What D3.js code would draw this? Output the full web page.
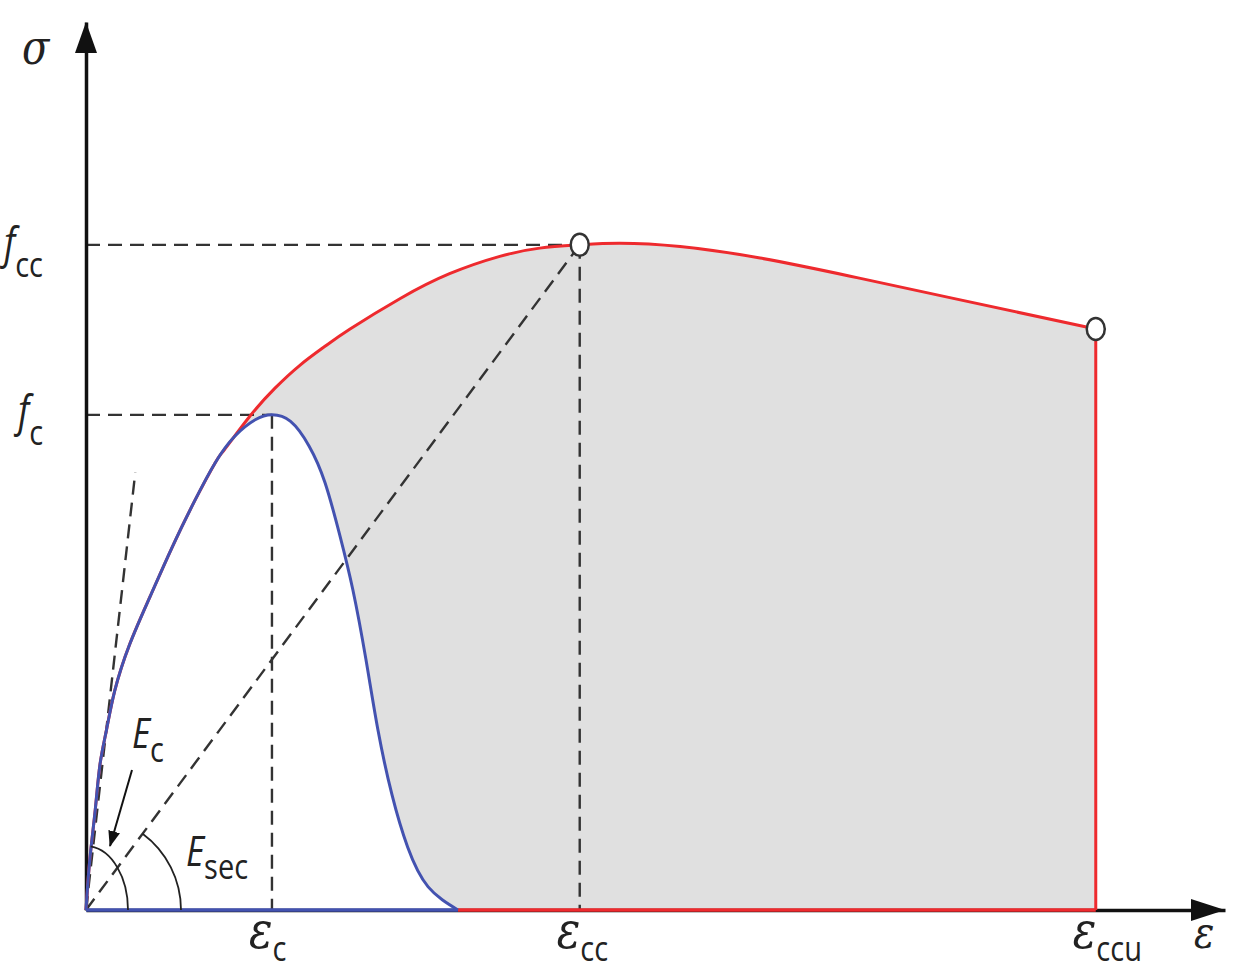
<!DOCTYPE html>
<html>
<head>
<meta charset="utf-8">
<script src="https://cdn.jsdelivr.net/npm/d3@7"></script>
<style>
  body { margin: 0; background: #fff; }
  .sans { font-family: "Open Sans", sans-serif; fill: #222; }
  .greek { font-family: "DejaVu Serif", serif; font-style: italic; fill: #222; }
</style>
</head>
<body>
<div id="chart"></div>
<script>
var width = 1239;
var height = 973;

/* confined curve (red) : strain in permil, stress in MPa */
var confinedStrain = [0, 0.04, 0.10, 0.15, 0.22, 0.31, 0.47, 0.69, 0.92, 1.17, 1.39, 1.49, 1.76, 2.03, 2.30, 2.57, 2.84, 3.38, 3.91, 4.45, 4.88, 5.31, 5.74, 6.39, 7.25, 8.22, 9.29, 10.86];
var confinedStress = [0, 3.0, 6.1, 8.8, 10.9, 13.3, 16.1, 19.0, 21.9, 24.8, 27.1, 27.9, 29.9, 31.6, 33.0, 34.15, 35.2, 37.05, 38.55, 39.6, 40.1, 40.3, 40.4, 40.2, 39.5, 38.4, 37.1, 35.2];

/* unconfined curve (blue) */
var plainStrain = [0, 0.04, 0.10, 0.15, 0.22, 0.31, 0.47, 0.69, 0.92, 1.17, 1.39, 1.60, 1.82, 2.00, 2.20, 2.40, 2.57, 2.73, 2.87, 3.01, 3.14, 3.29, 3.46, 3.68, 4.00];
var plainStress = [0, 3.0, 6.1, 8.8, 10.9, 13.3, 16.1, 19.0, 21.9, 24.8, 27.1, 28.7, 29.7, 30.0, 29.6, 28.1, 25.9, 22.7, 19.4, 15.2, 10.9, 7.0, 3.8, 1.4, 0];

/* key points: eps_c / f_c, eps_cc / f_cc, eps_ccu / f_ccu */
var keyStrain = [2.0, 5.31, 10.86];
var keyStress = [30.0, 40.3, 35.2];
var keySubs = ["c", "cc", "ccu"];

/* initial tangent (E_c) end point */
var tangentStrain = [0, 0.53];
var tangentStress = [0, 26.5];

var x = d3.scaleLinear().domain([0, 12.25]).range([86, 1225]);
var y = d3.scaleLinear().domain([0, 53.8]).range([910, 22]);

var red = "#ee2a2e";
var blue = "#4352b0";
var dash = "#333";

var confined = confinedStrain.map(function (d, i) { return {x: d, y: confinedStress[i]}; });
var plain = plainStrain.map(function (d, i) { return {x: d, y: plainStress[i]}; });

var svg = d3.select("#chart")
    .append("svg")
    .attr("width", width)
    .attr("height", height);

var line = d3.line()
    .x(function (d) { return x(d.x); })
    .y(function (d) { return y(d.y); })
    .curve(d3.curveNatural);

var area = d3.area()
    .x(function (d) { return x(d.x); })
    .y0(y(0))
    .y1(function (d) { return y(d.y); })
    .curve(d3.curveNatural);

// grey zone = under red minus under blue
svg.append("path").attr("d", area(confined)).attr("fill", "#e0e0e0");
svg.append("path").attr("d", area(plain)).attr("fill", "#fff");

// dashed guide lines
function dashed(x1, y1, x2, y2) {
    svg.append("line")
        .attr("x1", x(x1)).attr("y1", y(y1))
        .attr("x2", x(x2)).attr("y2", y(y2))
        .attr("stroke", dash)
        .attr("stroke-width", 2.4)
        .attr("stroke-dasharray", "14,8");
}
dashed(0, keyStress[1], keyStrain[1], keyStress[1]);
dashed(0, keyStress[0], keyStrain[0], keyStress[0]);
dashed(keyStrain[0], keyStress[0], keyStrain[0], 0);
dashed(keyStrain[1], keyStress[1], keyStrain[1], 0);
dashed(0, 0, keyStrain[1], keyStress[1]);
dashed(tangentStrain[0], tangentStress[0], tangentStrain[1], tangentStress[1]);

// axes (no ticks)
svg.append("g")
    .attr("transform", "translate(0," + y(0) + ")")
    .call(d3.axisBottom(x).tickValues([]).tickSizeOuter(0));
svg.append("g")
    .attr("transform", "translate(" + x(0) + ",0)")
    .call(d3.axisLeft(y).tickValues([]).tickSizeOuter(0));
svg.selectAll(".domain").attr("stroke", "#111").attr("stroke-width", 3.5);

var xEnd = x.range()[1], yEnd = y.range()[1];
svg.append("path")
    .attr("d", "M" + xEnd + "," + y(0) + "L" + (xEnd - 34) + "," + (y(0) - 11) + "L" + (xEnd - 34) + "," + (y(0) + 11) + "Z")
    .attr("fill", "#111");
svg.append("path")
    .attr("d", "M" + x(0) + "," + yEnd + "L" + (x(0) - 11) + "," + (yEnd + 31) + "L" + (x(0) + 11) + "," + (yEnd + 31) + "Z")
    .attr("fill", "#111");

// curves
svg.append("path").attr("d", line(confined))
    .attr("fill", "none").attr("stroke", red).attr("stroke-width", 3);
svg.append("line")
    .attr("x1", x(plainStrain[plainStrain.length - 1])).attr("y1", y(0))
    .attr("x2", x(keyStrain[2])).attr("y2", y(0))
    .attr("stroke", red).attr("stroke-width", 3.5);
svg.append("line")
    .attr("x1", x(keyStrain[2])).attr("y1", y(keyStress[2]))
    .attr("x2", x(keyStrain[2])).attr("y2", y(0))
    .attr("stroke", red).attr("stroke-width", 3);

svg.append("path").attr("d", line(plain))
    .attr("fill", "none").attr("stroke", blue).attr("stroke-width", 3);
svg.append("line")
    .attr("x1", x(0)).attr("y1", y(0))
    .attr("x2", x(plainStrain[plainStrain.length - 1])).attr("y2", y(0))
    .attr("stroke", blue).attr("stroke-width", 3.5);

// angle arcs
var ox = x(0), oy = y(0);
var tanAng = Math.atan2(oy - y(tangentStress[1]), x(tangentStrain[1]) - ox);
var secAng = Math.atan2(oy - y(keyStress[1]), x(keyStrain[1]) - ox);
svg.append("path")
    .attr("d", "M" + (ox + 42 * Math.cos(tanAng)) + "," + (oy - 64 * Math.sin(tanAng)) +
        "A42,64 0 0,1 " + (ox + 42) + "," + oy)
    .attr("fill", "none").attr("stroke", "#222").attr("stroke-width", 1.8);
svg.append("path")
    .attr("d", "M" + (ox + 95 * Math.cos(secAng)) + "," + (oy - 95 * Math.sin(secAng)) +
        "A95,95 0 0,1 " + (ox + 95) + "," + oy)
    .attr("fill", "none").attr("stroke", "#222").attr("stroke-width", 1.8);

// E_c pointer
svg.append("defs").append("marker")
    .attr("id", "head")
    .attr("viewBox", "0 0 16 12")
    .attr("refX", 15).attr("refY", 6)
    .attr("markerUnits", "userSpaceOnUse")
    .attr("markerWidth", 16).attr("markerHeight", 12)
    .attr("orient", "auto")
    .append("path").attr("d", "M0,0L16,6L0,12Z").attr("fill", "#111");
svg.append("line")
    .attr("x1", ox + 46).attr("y1", oy - 140)
    .attr("x2", ox + 24).attr("y2", oy - 64)
    .attr("stroke", "#111").attr("stroke-width", 2)
    .attr("marker-end", "url(#head)");

// key point circles
svg.selectAll(".pt")
    .data([1, 2])
    .enter()
    .append("ellipse")
    .attr("class", "pt")
    .attr("cx", function (d) { return x(keyStrain[d]); })
    .attr("cy", function (d) { return y(keyStress[d]); })
    .attr("rx", 9).attr("ry", 11)
    .attr("fill", "#fff")
    .attr("stroke", "#333")
    .attr("stroke-width", 2.5);

// labels (source image is stretched vertically, so text is too)
function label(px, py, main, sub, cls, mainSize, subSize, subDy) {
    var g = svg.append("g").attr("transform", "translate(" + px + "," + py + ") scale(1,1.2)");
    var t = g.append("text");
    t.append("tspan").attr("class", cls)
        .style("font-size", mainSize + "px")
        .style("font-style", "italic")
        .text(main);
    if (sub) {
        t.append("tspan").attr("class", "sans")
            .style("font-size", subSize + "px")
            .attr("dy", subDy)
            .text(sub);
    }
}
label(22, 64, "\u03c3", null, "greek", 40);
label(4, y(keyStress[1]) + 13, "f", "cc", "sans", 36, 29, 16);
label(18, y(keyStress[0]) + 11, "f", "c", "sans", 36, 29, 16);
label(ox + 46, oy - 162, "E", "c", "sans", 35, 29, 12);
label(ox + 100, oy - 44, "E", "sec", "sans", 35, 29, 11);
keySubs.forEach(function (s, i) {
    label(x(keyStrain[i]) - 23, oy + 38, "\u03b5", s, "greek", 44, 29, 11);
});
label(xEnd - 31, oy + 38, "\u03b5", null, "greek", 38);
</script>
</body>
</html>
